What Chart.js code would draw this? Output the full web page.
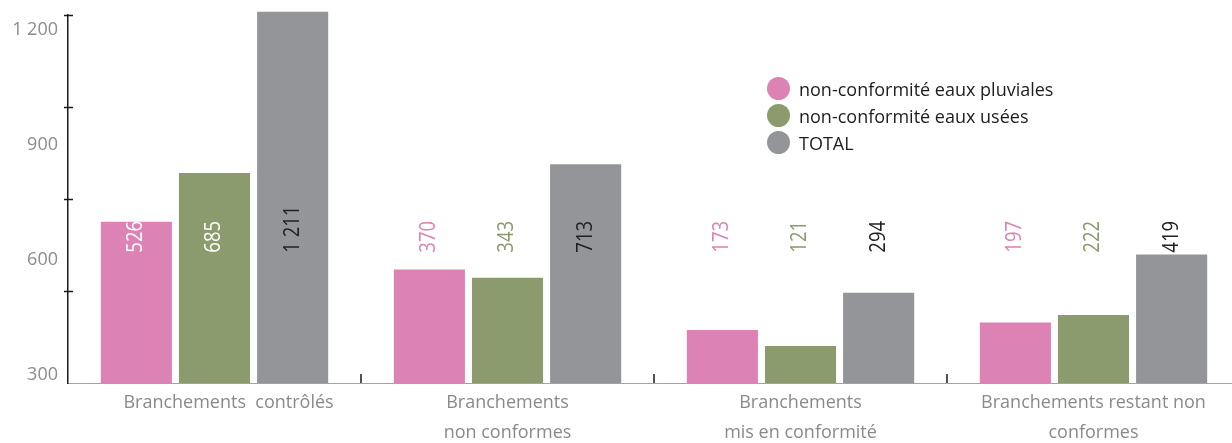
<!DOCTYPE html>
<html lang="fr">
<head>
<meta charset="utf-8">
<title>Branchements</title>
<script src="https://cdn.jsdelivr.net/npm/chart.js@4.4.1/dist/chart.umd.min.js"></script>
<style>
  html, body { margin: 0; padding: 0; background: #fff; overflow: hidden; }
  #wrap { position: relative; width: 1240px; height: 443px; }
  #legend {
    position: absolute; left: 767px; top: 75px;
    font-family: 'Open Sans', sans-serif; font-size: 18px; color: #1d1d1b;
  }
  #legend .row { display: flex; align-items: center; height: 27px; }
  #legend .dot { width: 23px; height: 23px; border-radius: 50%; margin-right: 9px; }
</style>
</head>
<body>
<div id="wrap">
  <canvas id="branchChart"></canvas>
  <div id="legend"></div>
</div>
<script>
// ---- Données ----
const categories = [
    ['      Branchements  contrôlés'],
    ['Branchements', 'non conformes'],
    ['Branchements', 'mis en conformité'],
    ['Branchements restant non', 'conformes']
];
const seriesNames = [
    'non-conformité eaux pluviales',
    'non-conformité eaux usées',
    'TOTAL'
];
const pluviales = [526, 370, 173, 197];
const usees     = [685, 343, 121, 222];
const total     = [1211, 713, 294, 419];

// graduations de l'axe (traits) et libellés affichés à gauche
const yTickMarks  = [300, 600, 900, 1200];
const yTickLabels = [300, 600, 900, 1200];

const PINK  = '#dc82b4';
const GREEN = '#8b9b6d';
const GREY  = '#949599';

// 1211 -> "1 211"
const fmt = (v) => String(v).replace(/\B(?=(\d{3})+(?!\d))/g, ' ');

// ---- Étiquettes de valeur verticales ----
const valueLabels = {
    id: 'valueLabels',
    afterDatasetsDraw(chart, args, opts) {
        const { ctx, scales: { y } } = chart;
        const yStart = y.getPixelForValue(opts.base);
        chart.data.datasets.forEach((ds, di) => {
            chart.getDatasetMeta(di).data.forEach((bar, i) => {
                const v = ds.data[i];
                ctx.save();
                ctx.translate(bar.x, yStart);
                ctx.rotate(-Math.PI / 2);
                ctx.scale(0.88, 1);
                ctx.font = '21px "Open Sans"';
                ctx.textAlign = 'left';
                ctx.textBaseline = 'middle';
                ctx.fillStyle = v > opts.base ? ds.labelInside : ds.labelOutside;
                ctx.fillText(fmt(v), 0, 0);
                ctx.restore();
            });
        });
    }
};

// ---- Traits de graduation et séparateurs de catégories ----
const axisMarks = {
    id: 'axisMarks',
    afterDraw(chart) {
        const { ctx, chartArea, scales: { x, y } } = chart;
        ctx.save();
        ctx.strokeStyle = '#1a1a1a';
        ctx.lineWidth = 1.5;
        ctx.beginPath();
        yTickMarks.forEach(v => {
            const py = Math.round(y.getPixelForValue(v)) + 0.5;
            ctx.moveTo(chartArea.left - 4, py);
            ctx.lineTo(chartArea.left + 5, py);
        });
        for (let i = 0; i < categories.length - 1; i++) {
            const px = Math.round((x.getPixelForValue(i) + x.getPixelForValue(i + 1)) / 2);
            ctx.moveTo(px, chartArea.bottom);
            ctx.lineTo(px, chartArea.bottom - 9);
        }
        ctx.stroke();
        ctx.restore();
    }
};

const ctx = document.getElementById('branchChart').getContext('2d');

const chart = new Chart(ctx, {
    type: 'bar',
    data: {
        labels: categories,
        datasets: [
            { label: seriesNames[0], data: pluviales, backgroundColor: PINK,
              labelInside: '#ffffff', labelOutside: PINK },
            { label: seriesNames[1], data: usees, backgroundColor: GREEN,
              labelInside: '#ffffff', labelOutside: GREEN },
            { label: seriesNames[2], data: total, backgroundColor: GREY,
              labelInside: '#222222', labelOutside: '#222222' }
        ]
    },
    options: {
        responsive: true,
        maintainAspectRatio: false,
        animation: false,
        layout: { padding: { top: 15, left: 0, right: 0, bottom: 0 } },
        datasets: {
            bar: {
                categoryPercentage: 0.80,
                barPercentage: 0.91,
                clip: false
            }
        },
        plugins: {
            legend: { display: false },
            tooltip: { enabled: false },
            valueLabels: { base: 425 }
        },
        scales: {
            x: {
                grid: { display: false, drawTicks: false },
                border: { color: '#a3a3a3', width: 1 },
                ticks: {
                    color: '#8a8a8c',
                    padding: 5,
                    maxRotation: 0,
                    autoSkip: false,
                    font: { family: 'Open Sans', size: 18, lineHeight: 1.667 }
                },
                afterFit: (s) => {
                    s.height = 60;
                    s.paddingLeft = 0;
                    s.paddingRight = 0;
                }
            },
            y: {
                min: 0,
                max: 1200,
                weight: 0,
                grid: { display: false, drawTicks: false },
                border: { color: '#1a1a1a', width: 1.5 },
                ticks: { display: false },
                afterFit: (s) => {
                    s.width = 0;
                    s.paddingTop = 0;
                    s.paddingBottom = 0;
                }
            },
            yLabels: {
                position: 'left',
                weight: 1,
                min: 279,
                max: 1239,
                grid: { display: false, drawTicks: false },
                border: { display: false },
                ticks: {
                    color: '#8c8c8c',
                    padding: 10,
                    font: { family: 'Open Sans', size: 18 },
                    callback: (v) => fmt(v)
                },
                afterBuildTicks: (s) => { s.ticks = yTickLabels.map(v => ({ value: v })); },
                afterFit: (s) => {
                    s.width = 68;
                    s.paddingTop = 0;
                    s.paddingBottom = 0;
                }
            }
        }
    },
    plugins: [valueLabels, axisMarks]
});

// ---- Légende HTML ----
const legend = document.getElementById('legend');
chart.data.datasets.forEach(ds => {
    const row = document.createElement('div');
    row.className = 'row';
    row.innerHTML = `<span class="dot" style="background:${ds.backgroundColor}"></span><span>${ds.label}</span>`;
    legend.appendChild(row);
});
</script>
</body>
</html>
